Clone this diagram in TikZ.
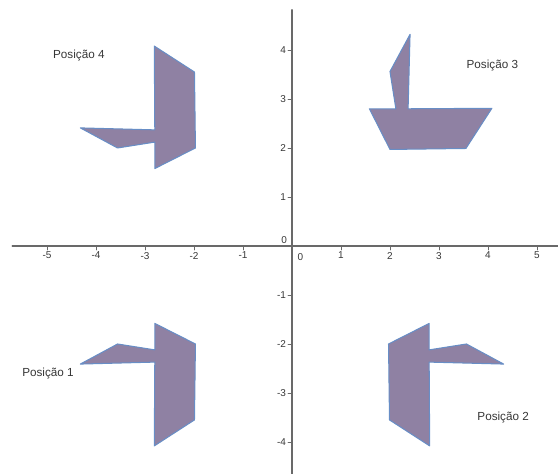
\documentclass[tikz,border=0pt]{standalone}
\usepackage{fontspec}
\setmainfont{Liberation Sans}
\usepackage{tikz}
\usepackage{xcolor}

\definecolor{eixo}{RGB}{105,105,105}
\definecolor{preenche}{RGB}{143,129,163}
\definecolor{borda}{RGB}{104,142,198}
\definecolor{texto}{RGB}{55,55,55}

% contorno do barco (posicao 3)
\newcommand{\barco}{(1.58,2.8) -- (2.12,2.8) -- (2,3.56) -- (2.41,4.32) -- (2.37,2.8) -- (4.08,2.81) -- (3.55,1.99) -- (2,1.97) -- cycle}

\begin{document}
\begin{tikzpicture}[line cap=round,
  forma/.style={fill=preenche,draw=borda,line width=0.6pt,line join=round},
  marca/.style={eixo,line width=0.5pt},
  num/.style={text=texto,font=\fontsize{5.8}{6}\selectfont,inner sep=1pt},
  rotulo/.style={text=texto,font=\fontsize{6.8}{8}\selectfont}]
\useasboundingbox (-5.959,-4.653) rectangle (5.429,5.020);
\filldraw[forma] \barco;
\filldraw[forma,rotate=90] \barco;
\filldraw[forma,cm={0,-1,-1,0,(0,0)}] \barco;
\filldraw[forma,rotate=270] \barco;
\draw[eixo,line width=0.8pt] (-5.71,0) -- (5.429,0);
\draw[eixo,line width=0.8pt] (0,-4.653) -- (0,4.82);
\draw[marca] (-5,0) -- (-5,-0.08) node[num,below] (xm5){-5};
\draw[marca] (-4,0) -- (-4,-0.08) node[num,below] (xm4){-4};
\draw[marca] (-3,0) -- (-3,-0.08) node[num,below] (xm3){-3};
\draw[marca] (-2,0) -- (-2,-0.08) node[num,below] (xm2){-2};
\draw[marca] (-1,0) -- (-1,-0.08) node[num,below] (xm1){-1};
\draw[marca] (1,0) -- (1,-0.08) node[num,below] (x1){1};
\draw[marca] (2,0) -- (2,-0.08) node[num,below] (x2){2};
\draw[marca] (3,0) -- (3,-0.08) node[num,below] (x3){3};
\draw[marca] (4,0) -- (4,-0.08) node[num,below] (x4){4};
\draw[marca] (5,0) -- (5,-0.08) node[num,below] (x5){5};
\draw[marca] (0,-4) -- (-0.08,-4) node[num,left] (ym4){-4};
\draw[marca] (0,-3) -- (-0.08,-3) node[num,left] (ym3){-3};
\draw[marca] (0,-2) -- (-0.08,-2) node[num,left] (ym2){-2};
\draw[marca] (0,-1) -- (-0.08,-1) node[num,left] (ym1){-1};
\draw[marca] (0,1) -- (-0.08,1) node[num,left] (y1){1};
\draw[marca] (0,2) -- (-0.08,2) node[num,left] (y2){2};
\draw[marca] (0,3) -- (-0.08,3) node[num,left] (y3){3};
\draw[marca] (0,4) -- (-0.08,4) node[num,left] (y4){4};
\node[num] (y0) at (-0.16,0.12) {0};
\node[num] (x0) at (0.17,-0.22) {0};
\node[rotulo] (pos3) at (4.09,3.69) {Posição 3};
\node[rotulo] (pos4) at (-4.35,3.88) {Posição 4};
\node[rotulo] (pos1) at (-4.98,-2.61) {Posição 1};
\node[rotulo] (pos2) at (4.31,-3.51) {Posição 2};
\end{tikzpicture}
\end{document}
